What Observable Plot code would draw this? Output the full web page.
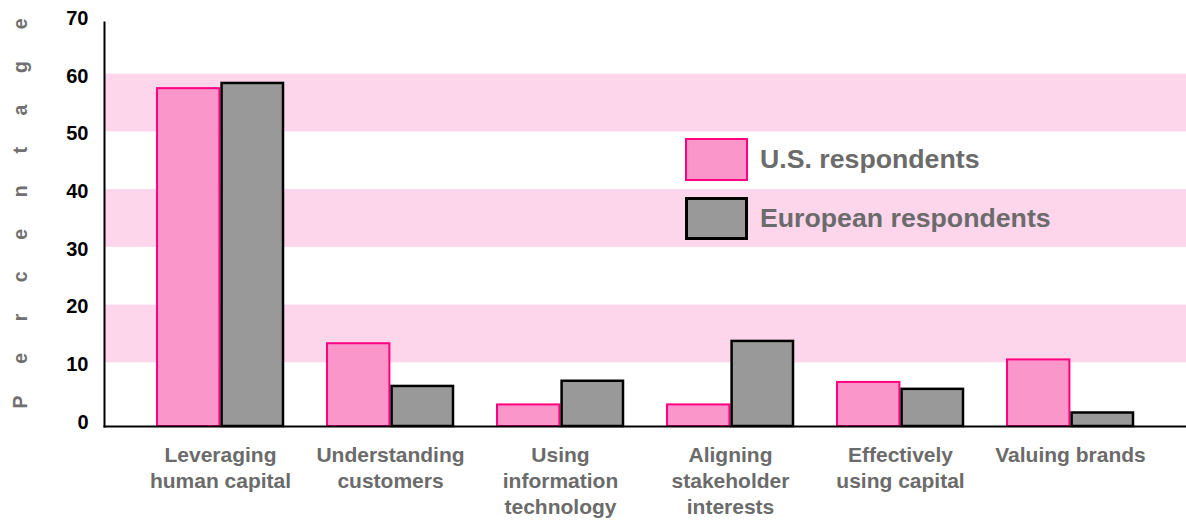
<!DOCTYPE html>
<html>
<head>
<meta charset="utf-8">
<script src="https://cdn.jsdelivr.net/npm/d3@7"></script>
<script src="https://cdn.jsdelivr.net/npm/@observablehq/plot@0.6"></script>
<style>
  body { margin: 0; background: #fff; }
  #wrap { position: relative; width: 1186px; height: 520px; font-family: "Liberation Sans", Arial, Helvetica, sans-serif; }
  #legend { position: absolute; left: 685px; top: 138px; }
  .row { display: flex; align-items: center; height: 43px; margin-bottom: 16px; }
  .sw { box-sizing: border-box; width: 63px; height: 43px; margin-right: 12px; }
  .lab { font-size: 26.7px; font-weight: bold; color: #6b6b6b; white-space: nowrap; }
</style>
</head>
<body>
<div id="wrap"></div>
<script>
const categories = ["Leveraging human capital", "Understanding customers", "Using information technology", "Aligning stakeholder interests", "Effectively using capital", "Valuing brands"];
const categoryLabels = ["Leveraging\nhuman capital", "Understanding\ncustomers", "Using\ninformation\ntechnology", "Aligning\nstakeholder\ninterests", "Effectively\nusing capital", "Valuing brands"];
const seriesNames = ["U.S. respondents", "European respondents"];
const usValues = [57.5, 13.3, 2.7, 2.7, 6.6, 10.5];
const euValues = [58.4, 5.9, 6.8, 13.7, 5.4, 1.3];
const yTicks = [0, 10, 20, 30, 40, 50, 60, 70];
const bandLows = [10, 30, 50];
const bandHighs = [20, 40, 60];
const yLabel = "Percentage";

const pinkFill = "#fa96ca", pinkStroke = "#ff0080";
const grayFill = "#999999", grayStroke = "#000000";
const bandFill = "#fdd6eb";

const us = categories.map((c, i) => ({category: c, value: usValues[i]}));
const eu = categories.map((c, i) => ({category: c, value: euValues[i]}));
const bands = bandLows.map((lo, i) => ({lo, hi: bandHighs[i]}));
const labelOf = new Map(categories.map((c, i) => [c, categoryLabels[i]]));

const chart = Plot.plot({
  width: 1186,
  height: 520,
  marginLeft: 104,
  marginRight: 0,
  marginTop: 22,
  marginBottom: 94,
  style: {fontFamily: "'Liberation Sans', Arial, Helvetica, sans-serif", background: "#fff"},
  x: {domain: categories, paddingInner: 0.258, paddingOuter: 0.3, axis: null},
  y: {domain: [0, 70], range: [420, 16], axis: null},
  marks: [
    Plot.rect(bands, {y1: "lo", y2: "hi", fill: bandFill}),
    Plot.barY(us, {x: "category", y: "value", fill: pinkFill, stroke: pinkStroke, strokeWidth: 2, insetRight: 63.6, insetBottom: -6}),
    Plot.barY(eu, {x: "category", y: "value", fill: grayFill, stroke: grayStroke, strokeWidth: 2.5, insetLeft: 64.6, insetBottom: -6}),
    Plot.frame({anchor: "left", stroke: "#000", strokeWidth: 2}),
    Plot.frame({anchor: "bottom", stroke: "#000", strokeWidth: 2}),
    Plot.text(yTicks, {y: d => d, frameAnchor: "left", textAnchor: "end", dx: -16, dy: 2, fontSize: 20, fontWeight: "bold", fill: "#000"}),
    Plot.text(categories, {x: d => d, text: d => labelOf.get(d), frameAnchor: "bottom", lineAnchor: "top", dy: 17, fontSize: 21, fontWeight: "bold", fill: "#6b6b6b", lineHeight: 1.24}),
    Plot.text([yLabel], {frameAnchor: "bottom-left", rotate: -90, textAnchor: "start", lineAnchor: "middle", dx: -84, dy: -18, fontSize: 19.5, fontWeight: "bold", fill: "#707070"})
  ]
});

d3.select(chart).selectAll("text").filter(function() { return this.textContent === yLabel; })
  .attr("textLength", 390).attr("lengthAdjust", "spacing");

const wrap = document.getElementById("wrap");
wrap.appendChild(chart);

const legend = document.createElement("div");
legend.id = "legend";
const swatches = [
  {fill: pinkFill, border: `2px solid ${pinkStroke}`},
  {fill: grayFill, border: `3px solid ${grayStroke}`}
];
seriesNames.forEach((name, i) => {
  const row = document.createElement("div");
  row.className = "row";
  const sw = document.createElement("div");
  sw.className = "sw";
  sw.style.background = swatches[i].fill;
  sw.style.border = swatches[i].border;
  const lab = document.createElement("span");
  lab.className = "lab";
  lab.textContent = name;
  row.appendChild(sw);
  row.appendChild(lab);
  legend.appendChild(row);
});
wrap.appendChild(legend);
</script>
</body>
</html>
